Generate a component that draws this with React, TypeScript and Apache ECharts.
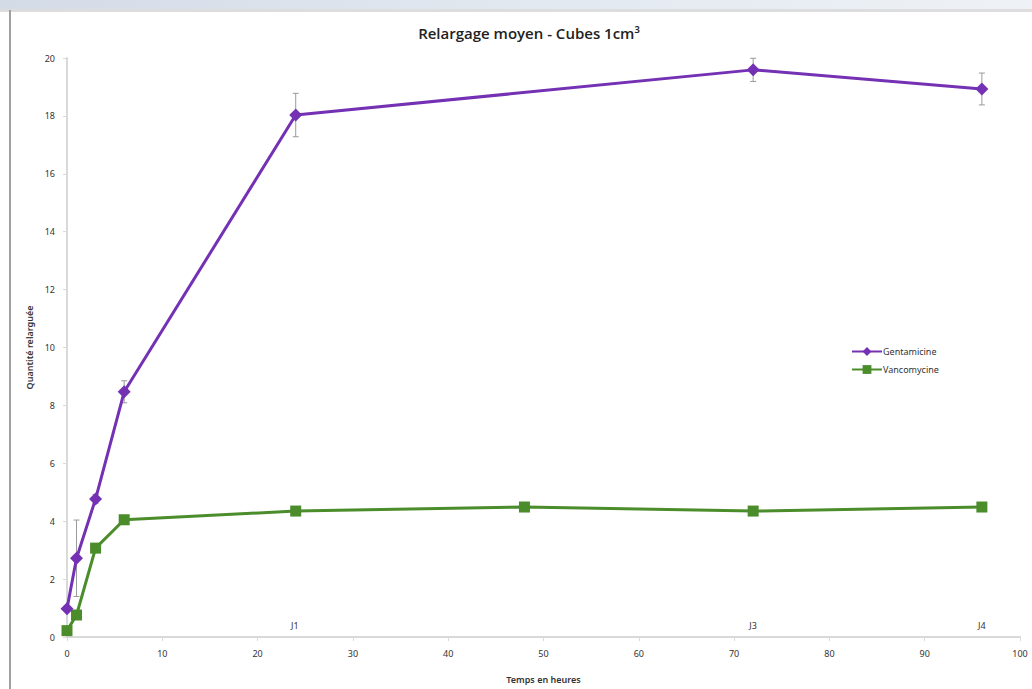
import React, { useEffect, useRef } from "react";
import * as echarts from "echarts";

const hoursGenta = [0, 1, 3, 6, 24, 72, 96];
const valuesGenta = [0.98, 2.72, 4.77, 8.47, 18.03, 19.59, 18.93];
const errorsGenta = [0.1, 1.32, 0.15, 0.38, 0.75, 0.4, 0.55];

const hoursVanco = [0, 1, 3, 6, 24, 48, 72, 96];
const valuesVanco = [0.22, 0.76, 3.07, 4.05, 4.35, 4.49, 4.35, 4.49];

const dayLabels = ["J1", "J3", "J4"];
const dayHours = [23.9, 72, 96];
const dayLabelY = 0.38;

const seriesNames = ["Gentamicine", "Vancomycine"];
const titleText = "Relargage moyen - Cubes 1cm³";
const xAxisTitle = "Temps en heures";
const yAxisTitle = "Quantité relarguée";

const PURPLE = "#7431b4";
const GREEN = "#4b8c2b";

export default function App() {
  const ref = useRef<HTMLDivElement>(null);
  useEffect(() => {
    if (!ref.current) return;
    const chart = echarts.init(ref.current, null, { renderer: "svg" });
    const font = "Noto Sans";
    const errData = hoursGenta.map((h, i) => [
      h,
      valuesGenta[i] - errorsGenta[i],
      valuesGenta[i] + errorsGenta[i],
    ]);
    chart.setOption({
      animation: false,
      backgroundColor: "#ffffff",
      textStyle: { fontFamily: font },
      title: {
        text: titleText,
        left: 524,
        textAlign: "center",
        top: 20,
        textStyle: { fontFamily: "Open Sans", fontSize: 15, fontWeight: 600, color: "#222" },
      },
      graphic: [
        {
          type: "rect",
          shape: { x: 0, y: 0, width: 1032, height: 9 },
          style: {
            fill: new echarts.graphic.LinearGradient(0, 0, 1, 0, [
              { offset: 0, color: "#d3dbe7" },
              { offset: 0.5, color: "#e2e8f0" },
              { offset: 1, color: "#eef2f6" },
            ]),
          },
          silent: true,
        },
        {
          type: "rect",
          shape: { x: 0, y: 9, width: 1032, height: 3 },
          style: { fill: "#dddddd" },
          silent: true,
        },
        {
          type: "rect",
          shape: { x: 9, y: 10, width: 2, height: 679 },
          style: { fill: "#a0a0a0" },
          silent: true,
        },
      ],
      grid: { left: 67, right: 12, top: 58, bottom: 52, containLabel: false },
      legend: {
        orient: "vertical",
        left: 846,
        top: 342,
        itemGap: 9,
        itemWidth: 30,
        itemHeight: 11,
        data: seriesNames,
        textStyle: { fontFamily: font, fontSize: 9, color: "#333", padding: [0, 0, 0, -4] },
      },
      xAxis: {
        type: "value",
        min: 0,
        max: 100,
        interval: 10,
        name: xAxisTitle,
        nameLocation: "middle",
        nameGap: 38,
        nameTextStyle: { fontFamily: font, fontSize: 9, color: "#333", fontWeight: 600 },
        axisLine: { lineStyle: { color: "#d9d9d9", width: 2 } },
        axisTick: { show: true, length: 4, lineStyle: { color: "#d9d9d9" } },
        axisLabel: { fontSize: 9, color: "#333", margin: 12 },
        splitLine: { show: false },
      },
      yAxis: {
        type: "value",
        min: 0,
        max: 20,
        interval: 2,
        name: yAxisTitle,
        nameLocation: "middle",
        nameGap: 32,
        nameRotate: 90,
        nameTextStyle: { fontFamily: font, fontSize: 9, color: "#333", fontWeight: 600 },
        axisLine: { show: true, lineStyle: { color: "#d9d9d9", width: 2 } },
        axisTick: { show: true, length: 4, lineStyle: { color: "#d9d9d9" } },
        axisLabel: { fontSize: 9, color: "#333", margin: 12 },
        splitLine: { show: false },
      },
      series: [
        {
          type: "custom",
          name: "errGenta",
          z: 1,
          silent: true,
          renderItem: (params: any, api: any) => {
            const x = api.value(0);
            const lo = api.coord([x, api.value(1)]);
            const hi = api.coord([x, api.value(2)]);
            const cap = 3;
            const style = { stroke: "#9a9a9a", lineWidth: 1 };
            return {
              type: "group",
              children: [
                { type: "line", shape: { x1: lo[0], y1: lo[1], x2: hi[0], y2: hi[1] }, style },
                { type: "line", shape: { x1: lo[0] - cap, y1: lo[1], x2: lo[0] + cap, y2: lo[1] }, style },
                { type: "line", shape: { x1: hi[0] - cap, y1: hi[1], x2: hi[0] + cap, y2: hi[1] }, style },
              ],
            };
          },
          data: errData,
        },
        {
          type: "line",
          name: seriesNames[0],
          z: 3,
          data: hoursGenta.map((h, i) => [h, valuesGenta[i]]),
          symbol: "diamond",
          symbolSize: 13,
          lineStyle: { color: PURPLE, width: 3 },
          itemStyle: { color: PURPLE },
        },
        {
          type: "line",
          name: seriesNames[1],
          z: 2,
          data: hoursVanco.map((h, i) => [h, valuesVanco[i]]),
          symbol: "rect",
          symbolSize: 11,
          lineStyle: { color: GREEN, width: 3 },
          itemStyle: { color: GREEN },
        },
        {
          type: "custom",
          name: "days",
          silent: true,
          z: 4,
          data: dayHours.map((h, i) => [h, dayLabelY, i]),
          renderItem: (params: any, api: any) => {
            const p = api.coord([api.value(0), api.value(1)]);
            return {
              type: "text",
              x: p[0],
              y: p[1],
              style: {
                text: dayLabels[api.value(2)],
                fill: "#333333",
                fontFamily: font,
                fontSize: 9,
                align: "center",
                verticalAlign: "middle",
              },
            };
          },
        },
      ],
    });
    return () => chart.dispose();
  }, []);
  return (
    <div
      ref={ref}
      style={{ position: "fixed", left: 0, top: 0, width: 1032, height: 689 }}
    />
  );
}
